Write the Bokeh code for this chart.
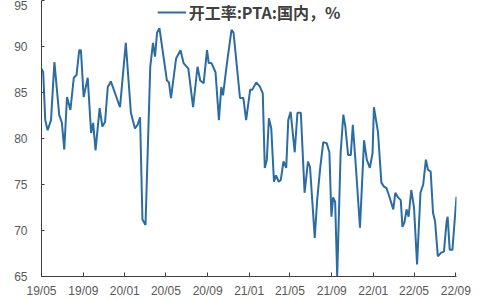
import pandas as pd
from bokeh.plotting import figure
from bokeh.models import (FixedTicker, DatetimeTickFormatter, Range1d, Legend,
                          LegendItem)
from bokeh.embed import file_html
from bokeh.resources import INLINE

# ---- data ----
dates = [
    "2019-05-01", "2019-05-06", "2019-05-12", "2019-05-19", "2019-05-29",
    "2019-06-08", "2019-06-22", "2019-06-30", "2019-07-07", "2019-07-15",
    "2019-07-25", "2019-08-04", "2019-08-12", "2019-08-20", "2019-08-25",
    "2019-09-02", "2019-09-14", "2019-09-24", "2019-09-30", "2019-10-07",
    "2019-10-19", "2019-10-27", "2019-11-04", "2019-11-12", "2019-11-21",
    "2019-12-18", "2020-01-04", "2020-01-19", "2020-01-31", "2020-02-08",
    "2020-02-15", "2020-02-22", "2020-03-02", "2020-03-16", "2020-03-24",
    "2020-03-30", "2020-04-05", "2020-04-12", "2020-05-04", "2020-05-10",
    "2020-05-16", "2020-05-31", "2020-06-13", "2020-06-22", "2020-07-06",
    "2020-07-20", "2020-08-02", "2020-08-10", "2020-08-20", "2020-08-30",
    "2020-09-04", "2020-09-12", "2020-09-24", "2020-10-04", "2020-10-11",
    "2020-10-16", "2020-10-27", "2020-11-10", "2020-11-16", "2020-12-05",
    "2020-12-15", "2020-12-23", "2021-01-04", "2021-01-10", "2021-01-22",
    "2021-02-02", "2021-02-10", "2021-02-16", "2021-02-22", "2021-02-28",
    "2021-03-07", "2021-03-15", "2021-03-21", "2021-03-29", "2021-04-04",
    "2021-04-12", "2021-04-20", "2021-04-26", "2021-05-03", "2021-05-15",
    "2021-05-23", "2021-06-02", "2021-06-13", "2021-06-23", "2021-06-29",
    "2021-07-13", "2021-07-20", "2021-07-29", "2021-08-07", "2021-08-17",
    "2021-08-25", "2021-08-31", "2021-09-05", "2021-09-11", "2021-09-17",
    "2021-09-27", "2021-10-05", "2021-10-11", "2021-10-19", "2021-10-27",
    "2021-11-02", "2021-11-11", "2021-11-23", "2021-12-05", "2021-12-13",
    "2021-12-22", "2021-12-30", "2022-01-03", "2022-01-15", "2022-01-25",
    "2022-02-01", "2022-02-09", "2022-02-19", "2022-03-01", "2022-03-07",
    "2022-03-15", "2022-03-23", "2022-03-28", "2022-04-03", "2022-04-09",
    "2022-04-15", "2022-04-23", "2022-05-01", "2022-05-10", "2022-05-20",
    "2022-05-28", "2022-06-05", "2022-06-11", "2022-06-19", "2022-06-26",
    "2022-07-02", "2022-07-10", "2022-07-20", "2022-07-28", "2022-08-05",
    "2022-08-08", "2022-08-14", "2022-08-22", "2022-09-03",
]
values = [
    87.6, 87.2, 82.0, 80.9, 82.0,
    88.3, 82.6, 81.7, 78.8, 84.5,
    83.1, 86.6, 86.9, 89.6, 89.6,
    84.5, 86.6, 80.6, 81.7, 78.7,
    83.3, 81.3, 81.8, 85.6, 86.2,
    83.4, 90.4, 82.8, 81.1, 81.5,
    82.3, 71.2, 70.6, 87.8, 90.4,
    88.9, 91.5, 92.0, 86.3, 86.1,
    84.4, 88.7, 89.6, 88.2, 87.6,
    83.4, 87.8, 86.3, 86.0, 89.6,
    88.2, 88.2, 87.2, 82.0, 85.6,
    84.7, 88.0, 91.8, 91.5, 84.4,
    84.4, 82.0, 85.3, 85.3, 86.1,
    85.6, 84.9, 76.8, 77.7, 82.2,
    81.1, 75.3, 76.0, 75.3, 75.5,
    77.5, 76.8, 82.0, 82.9, 78.5,
    82.8, 82.8, 74.1, 77.5, 76.9,
    69.2, 73.3, 76.8, 79.6, 79.5,
    78.5, 71.5, 73.6, 73.1, 65.0,
    78.4, 82.6, 81.3, 78.2, 78.2,
    81.5, 76.9, 70.3, 79.8, 77.7,
    76.8, 78.4, 83.4, 80.7, 75.2,
    74.8, 74.6, 73.5, 72.3, 74.1,
    73.6, 73.3, 70.4, 70.9, 72.3,
    71.5, 74.4, 72.5, 66.3, 74.1,
    75.0, 77.7, 76.6, 76.4, 71.9,
    71.0, 67.2, 67.6, 67.7, 71.0,
    71.5, 67.9, 67.9, 73.7,
]
x_tick_labels = ["19/05", "19/09", "20/01", "20/05", "20/09", "21/01",
                 "21/05", "21/09", "22/01", "22/05", "22/09"]
y_ticks = [65, 70, 75, 80, 85, 90, 95]
series_name = "开工率:PTA:国内，%"

# ---- figure ----
x = pd.to_datetime(dates)
tick_dates = pd.to_datetime(["20" + t.replace("/", "-") + "-01" for t in x_tick_labels])

p = figure(width=481, height=300, x_axis_type="datetime",
           output_backend="svg", toolbar_location=None,
           x_range=Range1d(pd.Timestamp("2019-05-01"), pd.Timestamp("2022-09-03")),
           y_range=Range1d(65, 95),
           min_border_left=41, min_border_right=25,
           min_border_top=0, min_border_bottom=23)
p.outline_line_color = None
p.background_fill_color = "white"
p.border_fill_color = "white"
p.xgrid.visible = False
p.ygrid.visible = False

r = p.line(x, values, line_color="#2b6ca3", line_width=2)

# axes
p.xaxis.ticker = FixedTicker(ticks=[d.timestamp() * 1000 for d in tick_dates])
fmt = "%y/%m"
p.xaxis.formatter = DatetimeTickFormatter(
    microseconds=fmt, milliseconds=fmt, seconds=fmt, minsec=fmt, minutes=fmt,
    hourmin=fmt, hours=fmt, days=fmt, months=fmt, years=fmt)
p.yaxis.ticker = FixedTicker(ticks=y_ticks)

for ax in (p.xaxis[0], p.yaxis[0]):
    ax.axis_line_color = "#404040"
    ax.axis_line_width = 1
    ax.major_tick_line_color = "#404040"
    ax.major_tick_out = 0
    ax.minor_tick_line_color = None
    ax.major_label_text_font = "Liberation Sans"
    ax.major_label_text_font_size = "12px"
    ax.major_label_text_color = "#595959"
p.xaxis.major_tick_in = 4
p.yaxis.major_tick_in = 3
p.xaxis.major_label_standoff = 7
p.yaxis.major_label_standoff = 14

legend = Legend(items=[LegendItem(label=series_name, renderers=[r])],
                location="top_center", orientation="horizontal",
                margin=0, padding=0, border_line_color=None,
                background_fill_alpha=0, glyph_width=29, glyph_height=16,
                label_height=16, label_standoff=3,
                label_text_font="Noto Sans CJK SC",
                label_text_font_style="bold",
                label_text_font_size="16px", label_text_color="#404040")
p.add_layout(legend, "center")

open("out.html", "w").write(file_html(p, INLINE))
